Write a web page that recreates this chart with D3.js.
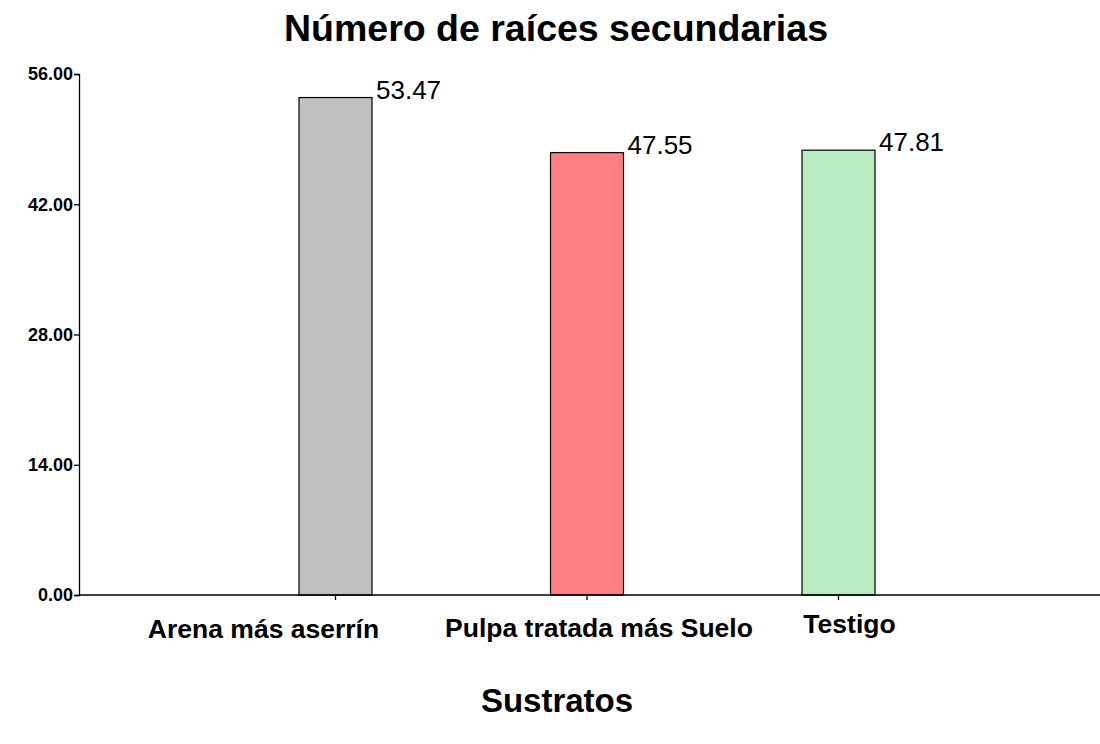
<!DOCTYPE html>
<html>
<head>
<meta charset="utf-8">
<script src="https://cdn.jsdelivr.net/npm/d3@7"></script>
<style>
  body { margin: 0; background: #fff; }
  svg { font-family: "Liberation Sans", Arial, sans-serif; }
</style>
</head>
<body>
<div id="chart"></div>
<script>
// data
const categories = ["Arena más aserrín", "Pulpa tratada más Suelo", "Testigo"];
const values = [53.47, 47.55, 47.81];
const barColors = ["#c0c0c0", "#ff8080", "#b9ecc0"];
const yTicks = [0, 14, 28, 42, 56];

const width = 1100;
const height = 744;

const svg = d3.select("#chart")
    .append("svg")
    .attr("width", width)
    .attr("height", height);

// scales
const x = d3.scalePoint()
    .domain(categories)
    .range([84, 1090])
    .padding(1);

const y = d3.scaleLinear()
    .domain([0, 56])
    .range([595, 74]);

const barW = 73;

// title
svg.append("text")
    .attr("x", 556)
    .attr("y", 41)
    .attr("text-anchor", "middle")
    .style("font-size", "37.5px")
    .style("font-weight", "bold")
    .text("Número de raíces secundarias");

// bars
svg.selectAll(".bar")
    .data(values)
    .enter()
    .append("rect")
    .attr("class", "bar")
    .attr("x", (d, i) => x(categories[i]) - barW / 2)
    .attr("y", d => y(d))
    .attr("width", barW)
    .attr("height", d => y(0) - y(d))
    .attr("fill", (d, i) => barColors[i])
    .attr("stroke", "#000")
    .attr("stroke-width", 1.2);

// value labels, right of each bar top
svg.selectAll(".val")
    .data(values)
    .enter()
    .append("text")
    .attr("class", "val")
    .attr("x", (d, i) => x(categories[i]) + barW / 2 + 4)
    .attr("y", d => y(d) + 1)
    .style("font-size", "26px")
    .text(d => d.toFixed(2));

// y axis
const yAxis = svg.append("g")
    .attr("transform", "translate(79,0)")
    .call(d3.axisLeft(y).tickValues(yTicks).tickFormat(d3.format(".2f")).tickSize(5).tickPadding(1));
yAxis.select(".domain").attr("stroke-width", 1.3);
yAxis.selectAll(".tick line").attr("stroke-width", 1.3);
yAxis.selectAll("text")
    .style("font-size", "18px")
    .style("font-weight", "bold")
    .style("font-family", "'Liberation Sans', Arial, sans-serif")
    .attr("fill", "#000");

// x axis line across the whole width
svg.append("line")
    .attr("x1", 79)
    .attr("x2", width)
    .attr("y1", y(0))
    .attr("y2", y(0))
    .attr("stroke", "#000")
    .attr("stroke-width", 1.3);

svg.selectAll(".xtick")
    .data(categories)
    .enter()
    .append("line")
    .attr("class", "xtick")
    .attr("x1", d => x(d))
    .attr("x2", d => x(d))
    .attr("y1", y(0))
    .attr("y2", y(0) + 5)
    .attr("stroke", "#000")
    .attr("stroke-width", 1.3);

// category labels sit a bit off their ticks, like the original
const labelDx = [-72, 12, 11];
const labelY = [638, 637, 633];
svg.selectAll(".cat")
    .data(categories)
    .enter()
    .append("text")
    .attr("class", "cat")
    .attr("x", (d, i) => x(d) + labelDx[i])
    .attr("y", (d, i) => labelY[i])
    .attr("text-anchor", "middle")
    .style("font-size", "26.5px")
    .style("font-weight", "bold")
    .text(d => d);

// x axis title
svg.append("text")
    .attr("x", 557)
    .attr("y", 712)
    .attr("text-anchor", "middle")
    .style("font-size", "33px")
    .style("font-weight", "bold")
    .text("Sustratos");
</script>
</body>
</html>
